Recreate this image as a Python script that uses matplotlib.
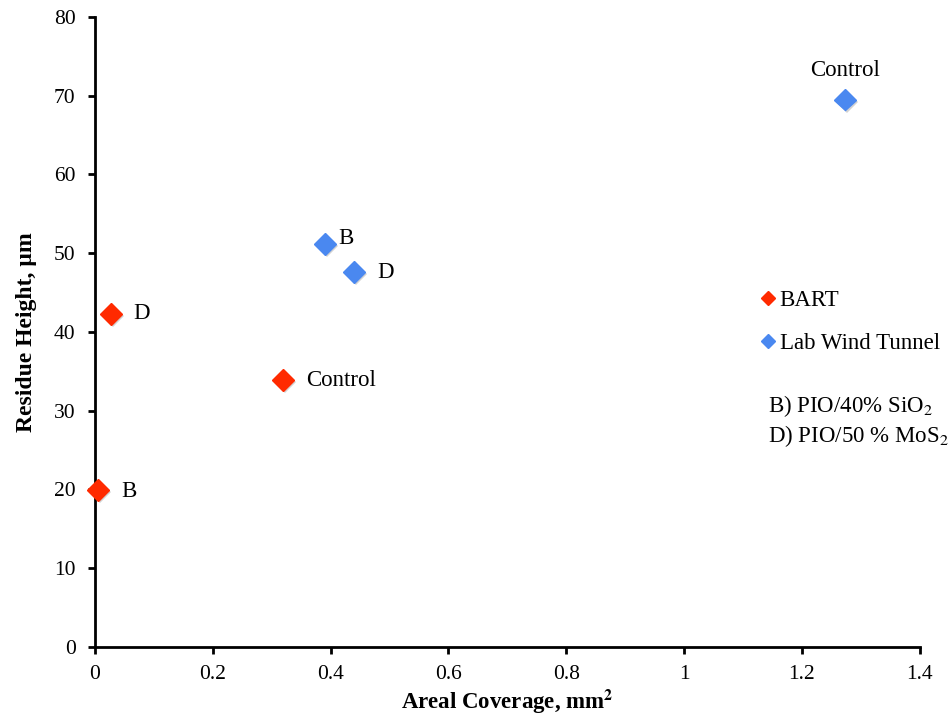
import matplotlib
matplotlib.use("Agg")
import matplotlib.pyplot as plt
import matplotlib.patheffects as pe
from matplotlib.lines import Line2D

plt.rcParams['font.family'] = ['Liberation Serif', 'DejaVu Serif']
plt.rcParams['mathtext.fontset'] = 'stix'

# Data
bart_x = [0.005, 0.027, 0.319]
bart_y = [19.9, 42.3, 33.9]
bart_labels = ["B", "D", "Control"]

lab_x = [0.39, 0.44, 1.273]
lab_y = [51.2, 47.6, 69.5]
lab_labels = ["B", "D", "Control"]

series_names = ["BART", "Lab Wind Tunnel"]
notes = ["B) PIO/40% SiO$_2$", "D) PIO/50 % MoS$_2$"]

red = "#FF2A00"
blue = "#4A88F0"

fig = plt.figure(figsize=(9.5, 7.25), dpi=100)
ax = fig.add_axes([0.1, 0.1076, 0.868, 0.869])

shadow = [pe.SimplePatchShadow(offset=(1.5, -1.5), alpha=0.35, shadow_rgbFace='gray'), pe.Normal()]

ax.plot(bart_x, bart_y, linestyle='none', marker='D', ms=11, color=red,
        markeredgecolor=red, path_effects=shadow, clip_on=False, zorder=3)
ax.plot(lab_x, lab_y, linestyle='none', marker='D', ms=11, color=blue,
        markeredgecolor=blue, path_effects=shadow, clip_on=False, zorder=3)

fs = 16.5
tfs = 15.5
bart_offsets = [(17, -1), (16, 0), (17, 0)]
for x, y, t, off in zip(bart_x, bart_y, bart_labels, bart_offsets):
    ax.annotate(t, (x, y), xytext=off, textcoords='offset points',
                ha='left', va='center', fontsize=fs)
lab_offsets = [(10, 4), (17, 0), (0, 21)]
lab_ha = ['left', 'left', 'center']
for x, y, t, off, ha in zip(lab_x, lab_y, lab_labels, lab_offsets, lab_ha):
    ax.annotate(t, (x, y), xytext=off, textcoords='offset points',
                ha=ha, va='center', fontsize=fs)

ax.set_xlim(0, 1.4)
ax.set_ylim(0, 80)
ax.set_xticks([0, 0.2, 0.4, 0.6, 0.8, 1, 1.2, 1.4])
ax.set_xticklabels(["0", "0.2", "0.4", "0.6", "0.8", "1", "1.2", "1.4"])
ax.set_yticks(range(0, 81, 10))
ax.tick_params(labelsize=tfs, direction='out', length=5, width=2)
ax.tick_params(axis='y', pad=9)
ax.tick_params(axis='x', pad=8)
for s in ['top', 'right']:
    ax.spines[s].set_visible(False)
for s in ['left', 'bottom']:
    ax.spines[s].set_linewidth(2)

ax.set_xlabel("Areal Coverage, mm$^\\mathbf{2}$", fontsize=16.5, fontweight='bold', labelpad=3)
ax.set_ylabel("Residue Height, µm", fontsize=17, fontweight='bold', labelpad=12)

handles = [Line2D([], [], linestyle='none', marker='D', ms=7, color=c, markeredgecolor=c)
           for c in (red, blue)]
fig.legend(handles, series_names, loc='upper left', bbox_to_anchor=(0.793, 0.613),
           frameon=False, fontsize=fs, handlelength=0.5, handletextpad=0.25,
           labelspacing=0.95, borderaxespad=0)

fig.text(0.808, 0.440, notes[0], fontsize=fs, va='center', ha='left')
fig.text(0.808, 0.398, notes[1], fontsize=fs, va='center', ha='left')

fig.savefig("out.png", dpi=100)
